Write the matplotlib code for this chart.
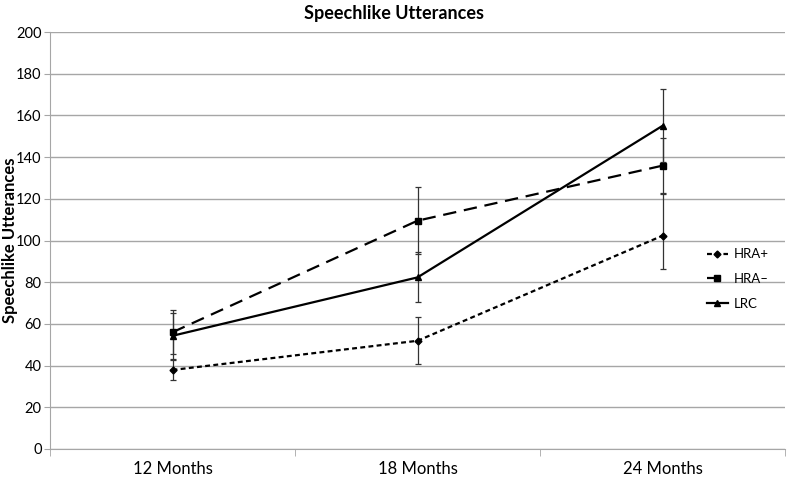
import numpy as np
import matplotlib.pyplot as plt

plt.rcParams['font.family'] = ['Lato', 'DejaVu Sans']

months = ['12 Months', '18 Months', '24 Months']
hra_plus = [37.9, 51.9, 102.3]
hra_plus_lo = [5.0, 11.3, 16.0]
hra_plus_hi = [5.0, 11.4, 20.0]
hra_minus = [56.0, 109.5, 135.9]
hra_minus_err = [10.5, 16.0, 13.3]
lrc = [54.3, 82.3, 155.0]
lrc_err = [11.0, 12.0, 17.5]

fig = plt.figure(figsize=(7.87, 4.8), dpi=100)
ax = fig.add_axes([50 / 787, 31 / 480, 735 / 787, 417 / 480])

x = np.arange(len(months))
grid_c = '#a6a6a6'

ax.set_ylim(0, 200)
ax.set_xlim(-0.5, 2.5)
ax.set_yticks(np.arange(0, 201, 20))
ax.yaxis.grid(True, color=grid_c, lw=1)
ax.set_axisbelow(True)

err_kw = dict(ecolor='#333333', elinewidth=0.9, capsize=2.5, capthick=0.9)
c1 = ax.errorbar(x, hra_plus, yerr=[hra_plus_lo, hra_plus_hi], color='black', lw=1.6,
                 ls=(0, (2.2, 1.5)), marker='D', ms=3.5, **err_kw)
c2 = ax.errorbar(x, hra_minus, yerr=hra_minus_err, color='black', lw=1.6,
                 ls=(0, (6, 3.5)), marker='s', ms=5, **err_kw)
c3 = ax.errorbar(x, lrc, yerr=lrc_err, color='black', lw=1.6,
                 ls='-', marker='^', ms=5, **err_kw)

ax.set_xticks(x)
ax.set_xticklabels(months, fontsize=12)
ax.set_xticks([-0.5, 0.5, 1.5, 2.5], minor=True)
ax.tick_params(axis='x', which='major', length=0, pad=9)
ax.tick_params(axis='x', which='minor', length=5, color=grid_c, direction='out')
ax.tick_params(axis='y', length=4, color=grid_c, labelsize=10.5, pad=2)

for s in ['top', 'right']:
    ax.spines[s].set_visible(False)
for s in ['left', 'bottom']:
    ax.spines[s].set_color(grid_c)

fig.text(0.5, 1 - 13 / 480, 'Speechlike Utterances', ha='center', va='center',
         fontsize=13, fontweight='bold')
fig.text(10 / 787, 0.5, 'Speechlike Utterances', ha='center', va='center',
         rotation=90, fontsize=12, fontweight='bold')

ax.legend([c1[0], c2[0], c3[0]], ['HRA+', 'HRA\u2013', 'LRC'],
          loc='center left', bbox_to_anchor=(695 / 787, (480 - 279) / 480),
          bbox_transform=fig.transFigure, frameon=False, fontsize=9.5,
          handlelength=1.6, handletextpad=0.4, labelspacing=0.95)

fig.savefig('out.png', dpi=100)
